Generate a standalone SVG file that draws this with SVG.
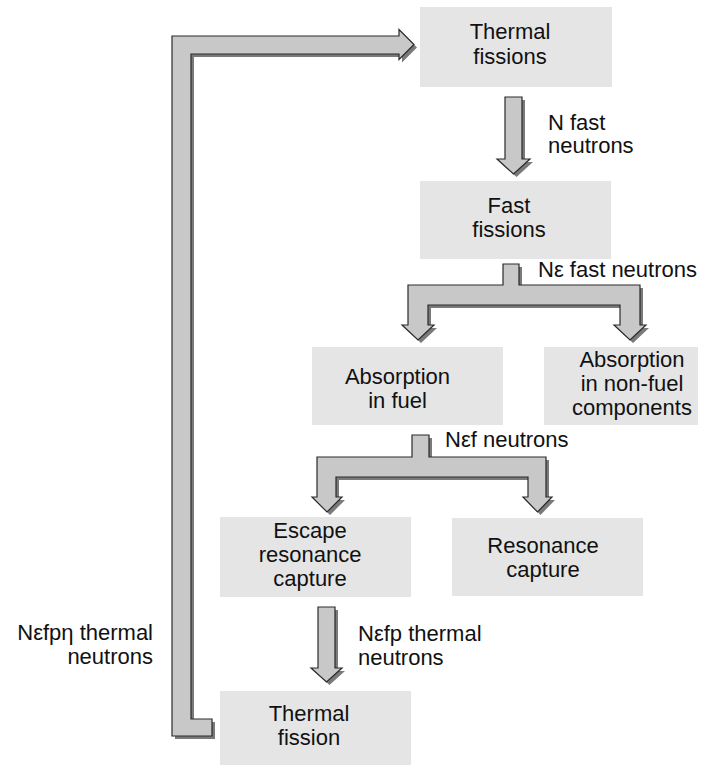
<svg xmlns="http://www.w3.org/2000/svg" width="720" height="766" viewBox="0 0 720 766">
<style>
.box{fill:#e5e5e5;stroke:none}
.t{font-family:"Liberation Sans",Arial,sans-serif;font-size:22px;fill:#111;text-anchor:middle}
.l{font-family:"Liberation Sans",Arial,sans-serif;font-size:22px;fill:#111}
.arr{fill:#c8c8c8;stroke:#2a2a2a;stroke-width:1.2;stroke-linejoin:miter}
.sh{fill:#7a7a7a;stroke:none}
</style>
<defs>
<path id="a1" d="M505,97 H522 V159 H530 L513.5,174 L497,159 H505 Z"/>
<path id="a2" d="M503,264 H519 V285 H640 V325 H646 L630,340 L614,325 H620 V305 H428 V325 H434 L418,340 L402,325 H408 V285 H503 Z"/>
<path id="a3" d="M412,435 H429 V457 H546 V497 H552 L537.5,512 L523,497 H528 V477 H336 V497 H342 L327,512 L312,497 H317 V457 H412 Z"/>
<path id="a4" d="M318,607 H335 V668 H342 L326.5,682 L311,668 H318 Z"/>
<path id="a5" d="M172,736 H212 V719 H191 V54 H399 V59.5 L414,44.5 L399,29.5 V36 H172 Z"/>
</defs>
<g id="connectors">
<use href="#a1" class="sh" transform="translate(3,3)"/><use href="#a1" class="arr"/>
<use href="#a2" class="sh" transform="translate(3,3)"/><use href="#a2" class="arr"/>
<use href="#a3" class="sh" transform="translate(3,3)"/><use href="#a3" class="arr"/>
<use href="#a4" class="sh" transform="translate(3,3)"/><use href="#a4" class="arr"/>
<use href="#a5" class="sh" transform="translate(3,3)"/><use href="#a5" class="arr"/>
<text class="l" x="548" y="130">N fast</text>
<text class="l" x="548" y="153">neutrons</text>
<text class="l" x="538" y="277">Nε fast neutrons</text>
<text class="l" x="445" y="447">Nεf neutrons</text>
<text class="l" x="358" y="641">Nεfp thermal</text>
<text class="l" x="358" y="665">neutrons</text>
<text class="l" x="153" y="640" text-anchor="end">Nεfpη thermal</text>
<text class="l" x="153" y="664" text-anchor="end">neutrons</text>
</g>
<g id="thermal-fissions">
<rect class="box" x="420" y="7" width="192" height="80"/>
<text class="t" x="510" y="39">Thermal</text>
<text class="t" x="510" y="64">fissions</text>
</g>
<g id="fast-fissions">
<rect class="box" x="420" y="181" width="191" height="78"/>
<text class="t" x="509" y="213">Fast</text>
<text class="t" x="509" y="237">fissions</text>
</g>
<g id="absorption-fuel">
<rect class="box" x="312" y="347" width="191" height="78"/>
<text class="t" x="397.5" y="384">Absorption</text>
<text class="t" x="397.5" y="408">in fuel</text>
</g>
<g id="absorption-nonfuel">
<rect class="box" x="544" y="347" width="154" height="78"/>
<text class="t" x="632" y="367">Absorption</text>
<text class="t" x="632" y="391">in non-fuel</text>
<text class="t" x="632" y="415">components</text>
</g>
<g id="escape-resonance">
<rect class="box" x="220" y="517" width="191" height="80"/>
<text class="t" x="310" y="538">Escape</text>
<text class="t" x="310" y="562">resonance</text>
<text class="t" x="310" y="586">capture</text>
</g>
<g id="resonance-capture">
<rect class="box" x="452" y="518" width="191" height="78"/>
<text class="t" x="543" y="553">Resonance</text>
<text class="t" x="543" y="577">capture</text>
</g>
<g id="thermal-fission">
<rect class="box" x="220" y="691" width="191" height="74"/>
<text class="t" x="309" y="721">Thermal</text>
<text class="t" x="309" y="745">fission</text>
</g>
</svg>
